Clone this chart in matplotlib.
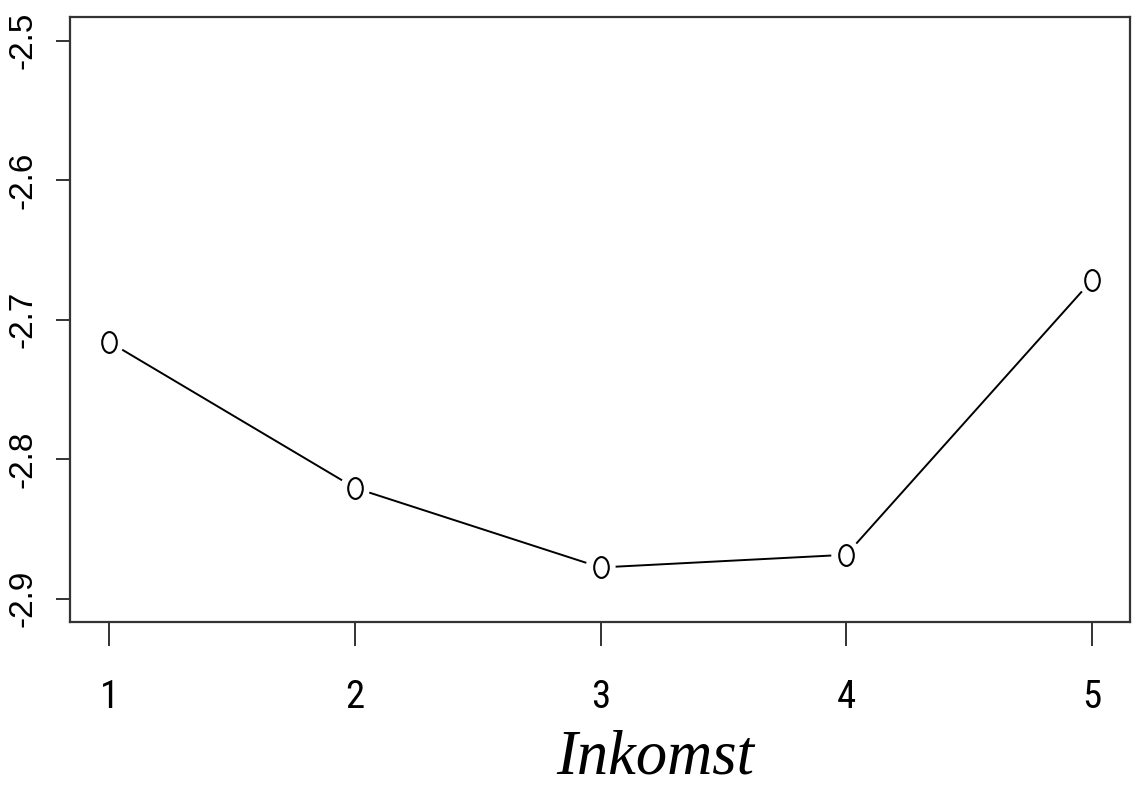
import numpy as np
import matplotlib
matplotlib.use("Agg")
import matplotlib.pyplot as plt
from matplotlib import font_manager
from matplotlib.path import Path
from matplotlib.transforms import Affine2D

# Inkomst-klasser och skattade effekter
inkomst = [1, 2, 3, 4, 5]
effekt = [-2.716, -2.8206, -2.8776, -2.8685, -2.6717]
y_ticks = [-2.5, -2.6, -2.7, -2.8, -2.9]

# smal sans för x-axelns siffror om en sådan finns installerad
installed = {f.name for f in font_manager.fontManager.ttflist}
narrow = [n for n in ["Liberation Sans Narrow", "Roboto Condensed", "Open Sans Condensed",
                      "DejaVu Sans Condensed", "Noto Sans Condensed"] if n in installed]
x_font = narrow[0] if narrow else "Liberation Sans"

# R-liknande ihålig cirkel, något högre än bred
oval = Path.unit_circle().transformed(Affine2D().scale(0.7, 1.0))

fig = plt.figure(figsize=(11.35, 7.9), dpi=100)
ax = fig.add_axes([70 / 1135, 1 - 622 / 790, 1060 / 1135, 605 / 790])
ax.set_xlim(0.84, 5.155)
ax.set_ylim(-2.9167, -2.483)

ax.plot(inkomst, effekt, linestyle="none", marker=oval, markersize=15,
        markerfacecolor="white", markeredgecolor="black", markeredgewidth=1.5)

# linjer mellan punkterna med luckor runt markörerna (type="b")
fig.canvas.draw()
gap = 15
pts = ax.transData.transform(np.column_stack([inkomst, effekt]))
inv = ax.transData.inverted()
for p0, p1 in zip(pts[:-1], pts[1:]):
    d = p1 - p0
    u = d / np.hypot(*d)
    seg = inv.transform(np.array([p0 + u * gap, p1 - u * gap]))
    ax.plot(seg[:, 0], seg[:, 1], color="black", lw=1.4, solid_capstyle="butt")

for s in ax.spines.values():
    s.set_linewidth(1.6)
    s.set_color("#333333")

ax.set_xticks(inkomst)
ax.set_xticklabels([str(v) for v in inkomst], fontfamily=x_font, fontsize=28)
ax.set_yticks(y_ticks)
ax.set_yticklabels([f"{v:.1f}" for v in y_ticks], rotation=90, va="center",
                   fontfamily="Liberation Sans", fontsize=24)
ax.tick_params(axis="x", length=17, width=1.4, color="#333333", pad=24)
ax.tick_params(axis="y", length=10, width=1.4, color="#333333", pad=13)

fig.text(655 / 1135, 16 / 790, "Inkomst", ha="center", va="baseline",
         fontfamily="Liberation Serif", fontstyle="italic", fontsize=45)

fig.savefig("out.png", dpi=100)
